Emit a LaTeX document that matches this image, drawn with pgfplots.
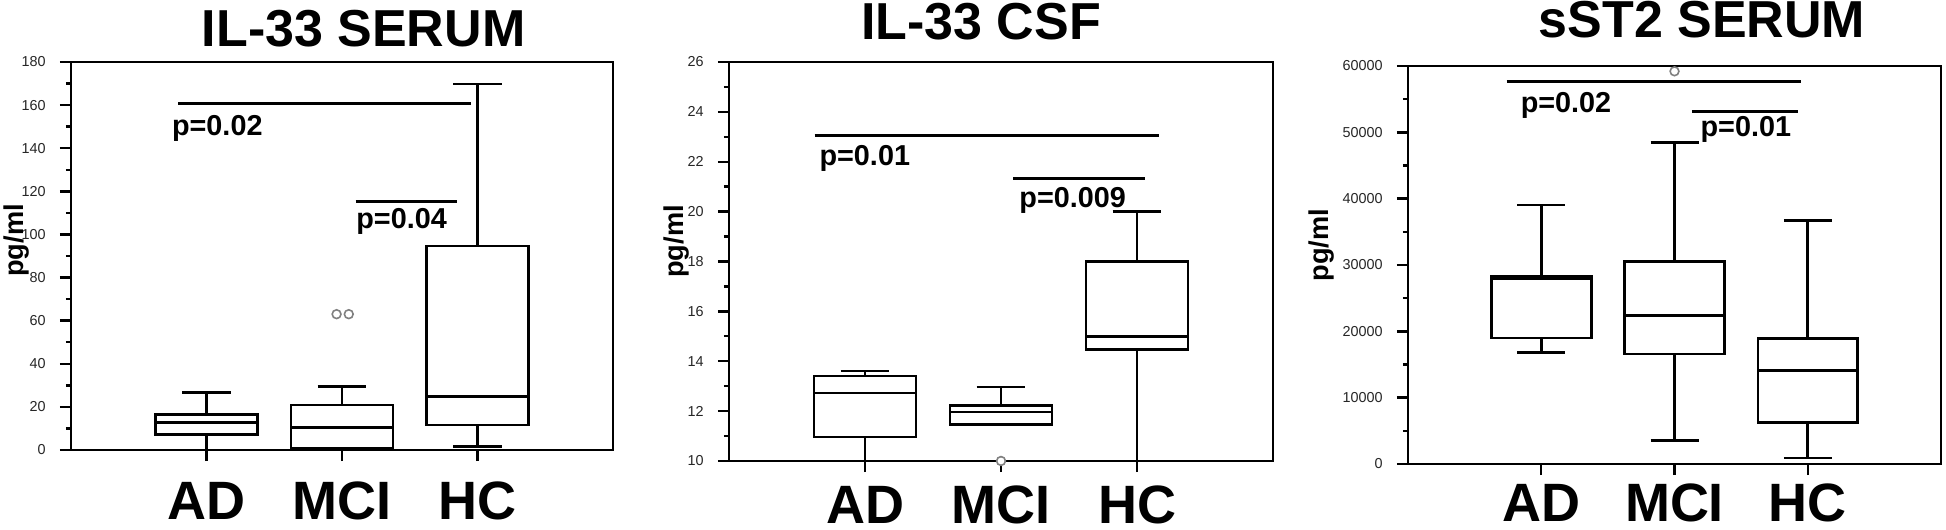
\documentclass[border=0pt]{standalone}
\usepackage{fontspec}
\setmainfont{Liberation Sans}
\usepackage{pgfplots}
\pgfplotsset{compat=1.18}
\usepgfplotslibrary{statistics}

\pgfplotsset{
  panel/.style={
    scale only axis, anchor=south west, clip=false,
    xmin=0, xmax=4, xtick={1,2,3}, xticklabels={AD,MCI,HC},
    tick pos=left, tick align=outside,
    major tick length=2.8pt, minor tick length=1.3pt,
    minor y tick num=1,
    axis line style={line width=0.65pt},
    tick style={black, line width=0.6pt},
    xticklabel style={font=\fontsize{13.5}{14}\selectfont\bfseries, anchor=base},
    yticklabel style={font=\fontsize{3.6}{4}\selectfont, text=black!85},
    /pgf/number format/assume math mode=true,
    ylabel={pg/ml},
    ylabel style={font=\fontsize{6.8}{8}\selectfont\bfseries, anchor=center},
    boxplot/draw direction=y,
    boxplot/box extend=0.75, boxplot/whisker extend=0.36,
    every axis plot/.append style={line width=0.65pt},
  },
  sig/.style={line width=0.75pt, black},
  outl/.style={only marks, mark=o, mark size=1.1pt, gray, line width=0.4pt},
}
\tikzset{ptext/.style={font=\fontsize{7.2}{8}\selectfont\bfseries, anchor=west, inner sep=0pt}}

\begin{document}
\begin{tikzpicture}
\useasboundingbox (0,0) rectangle (486.5pt,132.5pt);

% titles
\node[font=\fontsize{13}{15}\selectfont\bfseries, anchor=base] at (90.9pt,120.75pt) {IL-33 SERUM};
\node[font=\fontsize{13}{15}\selectfont\bfseries, anchor=base] at (245.25pt,122.5pt) {IL-33 CSF};
\node[font=\fontsize{13}{15}\selectfont\bfseries, anchor=base] at (425.5pt,123pt) {sST2 SERUM};

% IL-33 serum
\begin{axis}[panel, at={(17.75pt,20pt)}, width=135.5pt, height=97pt,
  ymin=0, ymax=180, ytick distance=20,
  xticklabel style={yshift=-14.5pt},
  ylabel style={at={(axis description cs:-0.0996,0.54)}}]
\addplot[boxplot prepared={draw position=1, lower whisker=0, lower quartile=7.1,
  median=12.8, upper quartile=16.4, upper whisker=26.6}] coordinates {};
\addplot[boxplot prepared={draw position=2, lower whisker=0, lower quartile=0.8,
  median=10.5, upper quartile=20.9, upper whisker=29.4}] coordinates {};
\addplot[boxplot prepared={draw position=3, lower whisker=1.5, lower quartile=11.6,
  median=24.7, upper quartile=94.6, upper whisker=169.8}] coordinates {};
\addplot[outl] coordinates {(1.96,63) (2.05,63)};
\addplot[sig] coordinates {(0.79,160.8) (2.95,160.8)};
\addplot[sig] coordinates {(2.10,115.2) (2.85,115.2)};
\node[ptext] at (axis cs:0.74,149.2) {p=0.02};
\node[ptext] at (axis cs:2.10,105.9) {p=0.04};
\end{axis}

% IL-33 CSF
\begin{axis}[panel, at={(182.25pt,17.25pt)}, width=136pt, height=99.75pt,
  ymin=10, ymax=26, ytick distance=2,
  xticklabel style={yshift=-12.75pt},
  ylabel style={at={(axis description cs:-0.097,0.55)}}]
\addplot[boxplot prepared={draw position=1, lower whisker=10, lower quartile=10.96,
  median=12.73, upper quartile=13.40, upper whisker=13.61}] coordinates {};
\addplot[boxplot prepared={draw position=2, lower whisker=11.47, lower quartile=11.47,
  median=11.97, upper quartile=12.23, upper whisker=12.97}] coordinates {};
\addplot[boxplot prepared={draw position=3, lower whisker=10, lower quartile=14.47,
  median=14.98, upper quartile=18.01, upper whisker=20.0}] coordinates {};
\addplot[outl, mark=*, fill=white] coordinates {(2,10)};
\addplot[sig] coordinates {(0.63,23.07) (3.16,23.07)};
\addplot[sig] coordinates {(2.09,21.33) (3.06,21.33)};
\node[ptext] at (axis cs:0.66,22.13) {p=0.01};
\node[ptext] at (axis cs:2.13,20.46) {p=0.009};
\end{axis}

% sST2 serum (values in thousands of pg/ml)
\begin{axis}[panel, at={(352pt,16.5pt)}, width=133.25pt, height=99.5pt,
  ymin=0, ymax=60, ytick={0,10,20,30,40,50,60},
  yticklabels={0,10000,20000,30000,40000,50000,60000},
  xticklabel style={yshift=-11.5pt},
  ylabel style={at={(axis description cs:-0.163,0.55)}}]
\addplot[boxplot prepared={draw position=1, lower whisker=16.82, lower quartile=18.98,
  median=27.9, upper quartile=28.3, upper whisker=39.06}] coordinates {};
\addplot[boxplot prepared={draw position=2, lower whisker=3.56, lower quartile=16.57,
  median=22.34, upper quartile=30.52, upper whisker=48.44}] coordinates {};
\addplot[boxplot prepared={draw position=3, lower whisker=0.9, lower quartile=6.28,
  median=14.11, upper quartile=18.88, upper whisker=36.7}] coordinates {};
\addplot[outl] coordinates {(2,59.2)};
\addplot[sig] coordinates {(0.74,57.6) (2.95,57.6)};
\addplot[sig] coordinates {(2.13,53.15) (2.93,53.15)};
\node[ptext] at (axis cs:0.84,54.0) {p=0.02};
\node[ptext] at (axis cs:2.19,50.4) {p=0.01};
\end{axis}
\end{tikzpicture}
\end{document}
